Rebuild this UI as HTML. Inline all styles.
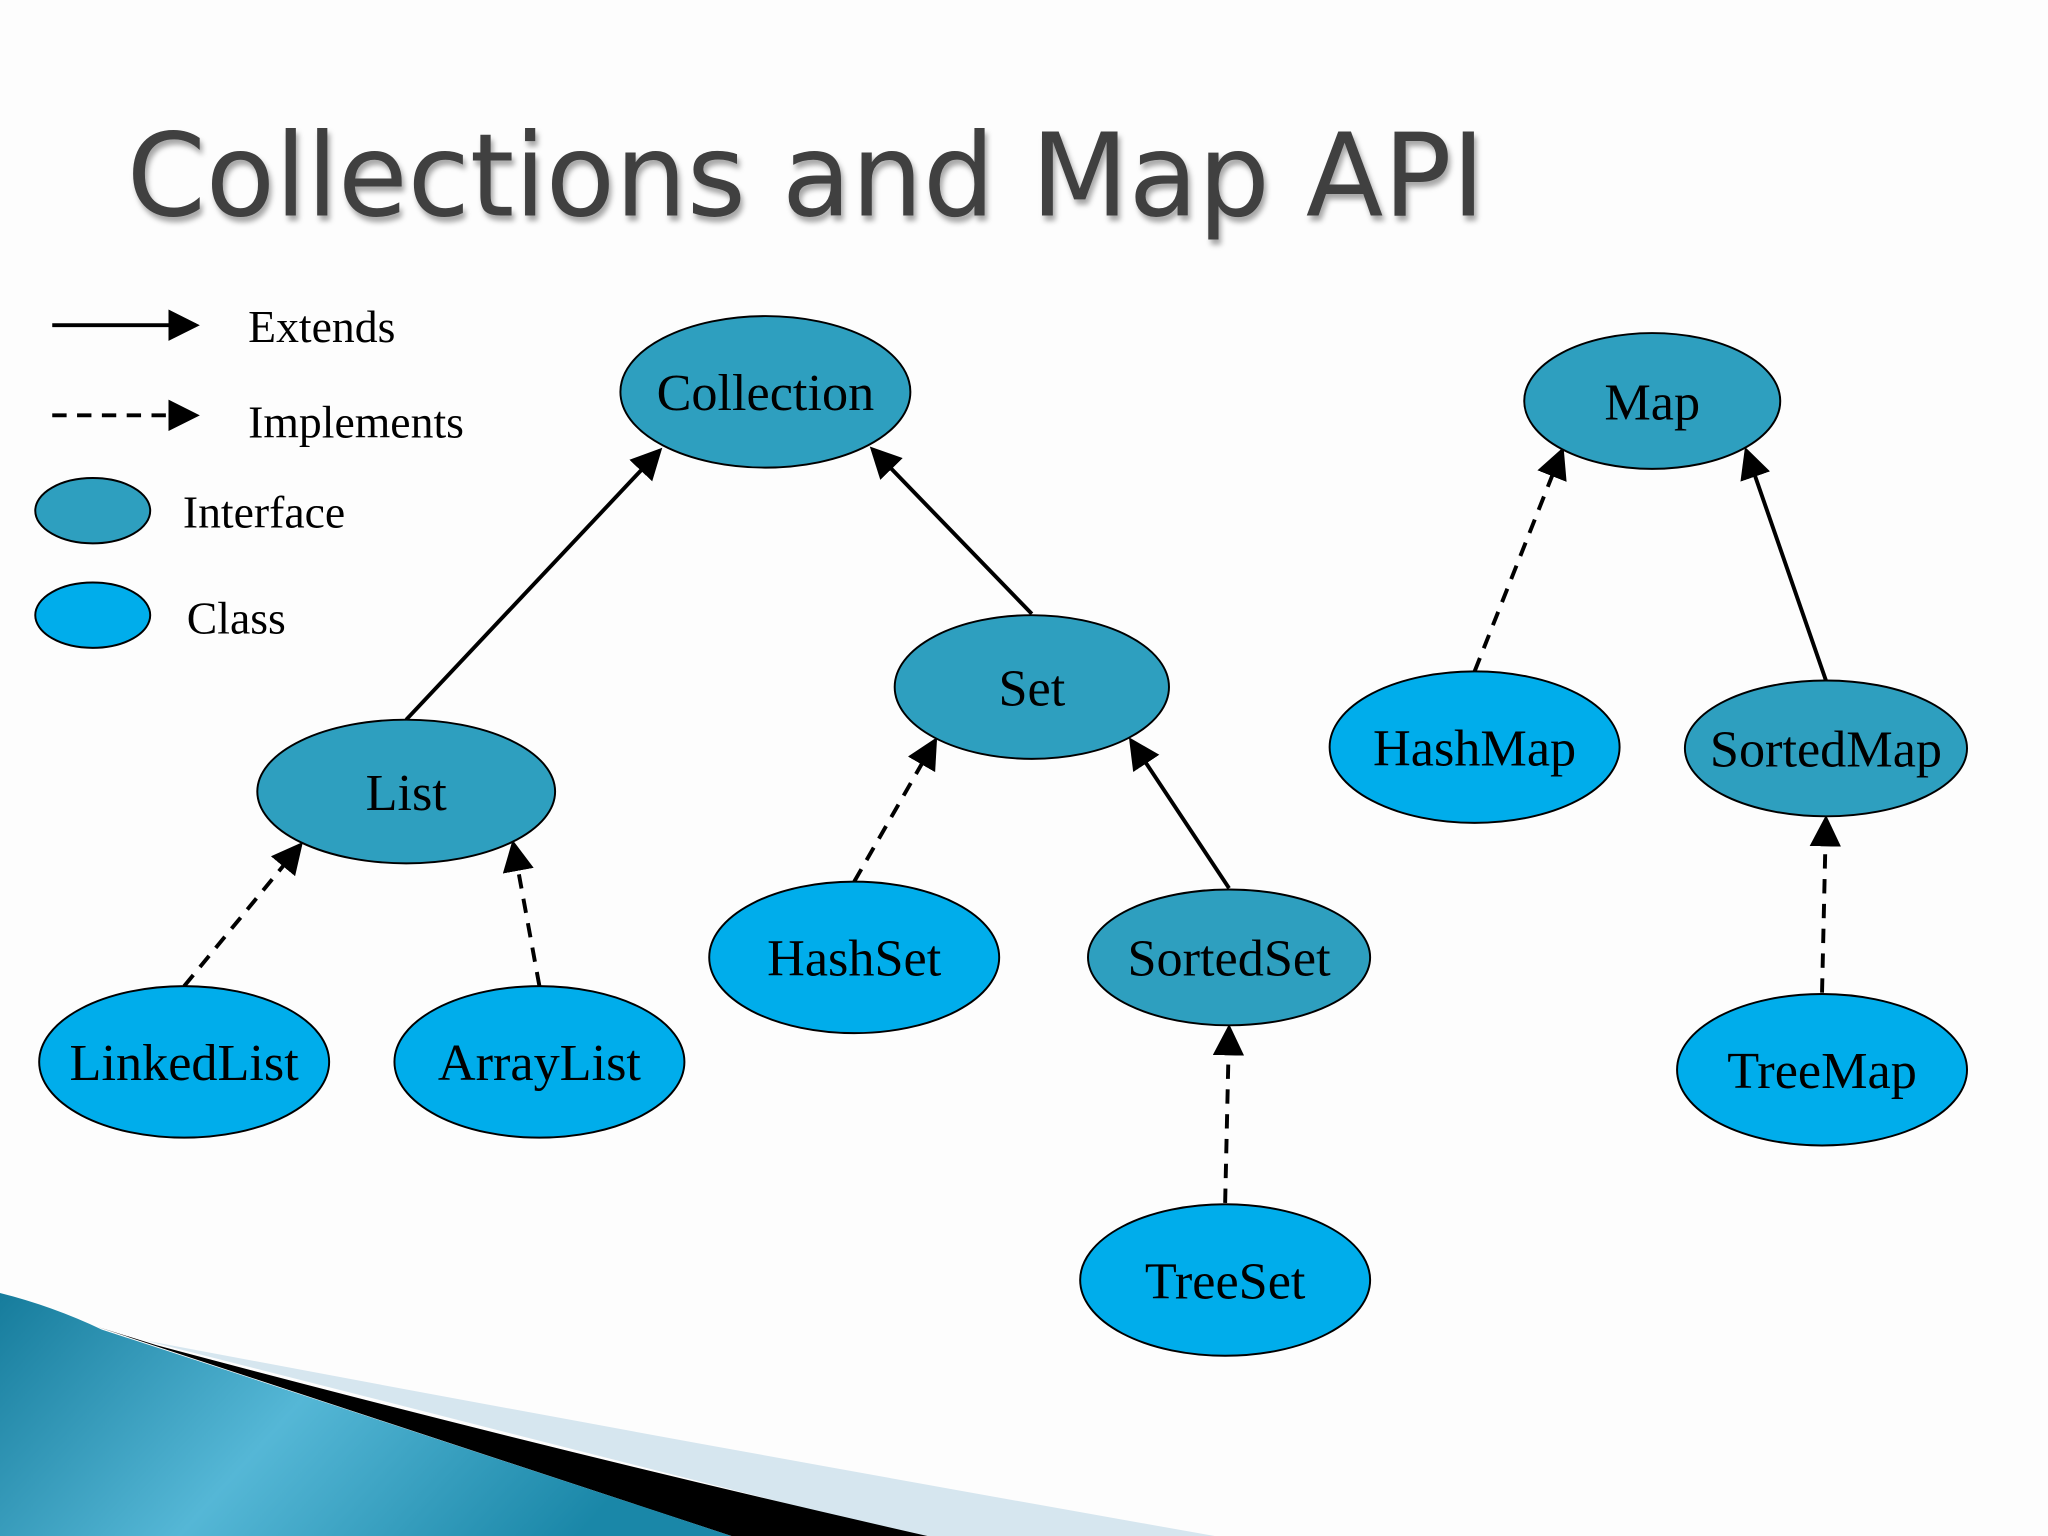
<!DOCTYPE html>
<html><head><meta charset="utf-8"><style>
html,body{margin:0;padding:0;background:#fdfdfd;}
svg{display:block}
.n{font-family:"Liberation Serif",serif;font-size:40px;text-anchor:middle;fill:#000}
.l{font-family:"Liberation Serif",serif;font-size:35px;fill:#000}
.i{fill:#2e9fbf;stroke:#000;stroke-width:1.5}
.c{fill:#00adeb;stroke:#000;stroke-width:1.5}
.e{stroke:#000;stroke-width:3;fill:none}
.d{stroke:#000;stroke-width:3;fill:none;stroke-dasharray:11 8}
</style></head><body>
<svg width="2048" height="1536" viewBox="0 0 1568 1176" xmlns="http://www.w3.org/2000/svg">
<defs>
<marker id="a" markerWidth="8" markerHeight="8" refX="7" refY="4" orient="auto" markerUnits="strokeWidth">
<path d="M0,0 L8,4 L0,8 z" fill="#000"/></marker>
<linearGradient id="g" x1="0" y1="0" x2="1" y2="0.3">
<stop offset="0" stop-color="#167c9c"/><stop offset="0.5" stop-color="#55b7d6"/><stop offset="1" stop-color="#1a87a8"/></linearGradient>
<filter id="s"><feDropShadow dx="2" dy="4" stdDeviation="2" flood-color="#000" flood-opacity="0.35"/></filter>
</defs>
<rect width="1568" height="1176" fill="#fdfdfd"/>
<!-- bottom decoration -->
<path d="M110,1026 Q500,1100 930,1176 L700,1176 Z" fill="#d6e6ef"/>
<path d="M75,1016 L120,1030 Q420,1110 710,1176 L560,1176 Z" fill="#000"/>
<path d="M0,990 Q40,1000 78,1018 Q330,1100 560,1176 L0,1176 Z" fill="url(#g)"/>
<!-- title -->
<text x="97" y="165" font-family="'DejaVu Sans','Liberation Sans',sans-serif" font-size="88" fill="#404040" filter="url(#s)" textLength="1040" lengthAdjust="spacingAndGlyphs">Collections and Map API</text>
<!-- legend -->
<line x1="40" y1="249" x2="150" y2="249" class="e" marker-end="url(#a)"/>
<line x1="40" y1="318" x2="150" y2="318" class="d" marker-end="url(#a)"/>
<text x="190" y="262" class="l">Extends</text>
<text x="190" y="335" class="l">Implements</text>
<ellipse cx="71" cy="391" rx="44" ry="25" class="i" stroke-width="3"/>
<ellipse cx="71" cy="471" rx="44" ry="25" class="c" stroke-width="3"/>
<text x="140" y="404" class="l">Interface</text>
<text x="143" y="485" class="l">Class</text>
<!-- edges -->
<line x1="311" y1="551" x2="505" y2="345" class="e" marker-end="url(#a)"/>
<line x1="790" y1="470" x2="668" y2="344" class="e" marker-end="url(#a)"/>
<line x1="654" y1="675" x2="716" y2="567" class="d" marker-end="url(#a)"/>
<line x1="941" y1="680" x2="866" y2="567" class="e" marker-end="url(#a)"/>
<line x1="938" y1="921" x2="941" y2="787" class="d" marker-end="url(#a)"/>
<line x1="141" y1="755" x2="230" y2="647" class="d" marker-end="url(#a)"/>
<line x1="413" y1="755" x2="393" y2="646" class="d" marker-end="url(#a)"/>
<line x1="1129" y1="514" x2="1196" y2="345" class="d" marker-end="url(#a)"/>
<line x1="1398" y1="521" x2="1337" y2="345" class="e" marker-end="url(#a)"/>
<line x1="1395" y1="760" x2="1398" y2="627" class="d" marker-end="url(#a)"/>
<!-- nodes -->
<ellipse cx="586" cy="300" rx="111" ry="58" class="i"/><text x="586" y="314" class="n">Collection</text>
<ellipse cx="790" cy="526" rx="105" ry="55" class="i"/><text x="790" y="540" class="n">Set</text>
<ellipse cx="311" cy="606" rx="114" ry="55" class="i"/><text x="311" y="620" class="n">List</text>
<ellipse cx="1265" cy="307" rx="98" ry="52" class="i"/><text x="1265" y="321" class="n">Map</text>
<ellipse cx="1129" cy="572" rx="111" ry="58" class="c"/><text x="1129" y="586" class="n">HashMap</text>
<ellipse cx="1398" cy="573" rx="108" ry="52" class="i"/><text x="1398" y="587" class="n">SortedMap</text>
<ellipse cx="654" cy="733" rx="111" ry="58" class="c"/><text x="654" y="747" class="n">HashSet</text>
<ellipse cx="941" cy="733" rx="108" ry="52" class="i"/><text x="941" y="747" class="n">SortedSet</text>
<ellipse cx="141" cy="813" rx="111" ry="58" class="c"/><text x="141" y="827" class="n">LinkedList</text>
<ellipse cx="413" cy="813" rx="111" ry="58" class="c"/><text x="413" y="827" class="n">ArrayList</text>
<ellipse cx="938" cy="980" rx="111" ry="58" class="c"/><text x="938" y="994" class="n">TreeSet</text>
<ellipse cx="1395" cy="819" rx="111" ry="58" class="c"/><text x="1395" y="833" class="n">TreeMap</text>
</svg>
</body></html>
